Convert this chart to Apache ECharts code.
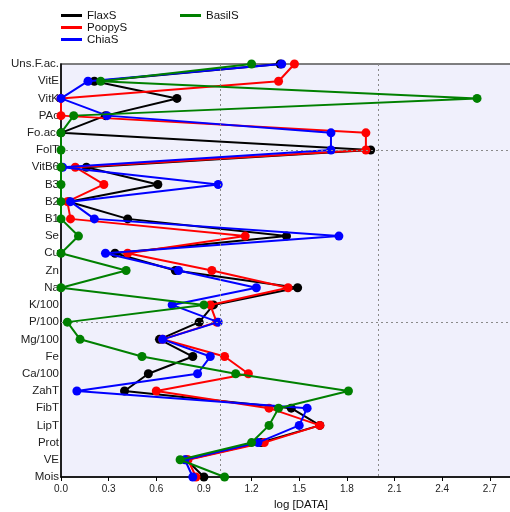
<!DOCTYPE html>
<html>
<head>
<meta charset="utf-8">
<script src="https://cdn.jsdelivr.net/npm/echarts@6/dist/echarts.min.js"></script>
<style>
  html, body { margin: 0; padding: 0; background: #fff; }
  #chart { width: 510px; height: 512px; }
</style>
</head>
<body>
<div id="chart"></div>
<script>
// Nutrient components, listed top to bottom
const categories = ['Uns.F.ac.', 'VitE', 'VitK', 'PAc', 'Fo.ac.', 'FolT', 'VitB6', 'B3', 'B2', 'B1',
  'Se', 'Cu', 'Zn', 'Na', 'K/100', 'P/100', 'Mg/100', 'Fe', 'Ca/100', 'ZahT', 'FibT', 'LipT',
  'Prot', 'VE', 'Mois'];

// log10 of the measured values per seed
const flaxS  = [1.38, 0.21, 0.73, 0.28, 0.00, 1.95, 0.16, 0.61, 0.05, 0.42, 1.42, 0.34, 0.72, 1.49, 0.96, 0.87, 0.62, 0.83, 0.55, 0.40, 1.45, 1.63, 1.26, 0.79, 0.90];
const poopyS = [1.47, 1.37, 0.00, 0.00, 1.92, 1.92, 0.09, 0.27, 0.04, 0.06, 1.16, 0.42, 0.95, 1.43, 0.94, 0.98, 0.64, 1.03, 1.18, 0.60, 1.31, 1.63, 1.28, 0.80, 0.85];
const chiaS  = [1.39, 0.17, 0.00, 0.29, 1.70, 1.70, 0.01, 0.99, 0.06, 0.21, 1.75, 0.28, 0.74, 1.23, 0.70, 0.99, 0.64, 0.94, 0.86, 0.10, 1.55, 1.50, 1.24, 0.78, 0.83];
const basilS = [1.20, 0.25, 2.62, 0.08, 0.00, 0.00, 0.00, 0.00, 0.00, 0.00, 0.11, 0.00, 0.41, 0.00, 0.90, 0.04, 0.12, 0.51, 1.10, 1.81, 1.37, 1.31, 1.20, 0.75, 1.03];

// Reference lines
const xGuides = [1, 2];
const yGuides = ['FolT', 'P/100'];

const seriesDefs = [
  { name: 'FlaxS',  data: flaxS,  color: '#000000' },
  { name: 'PoopyS', data: poopyS, color: '#ff0000' },
  { name: 'ChiaS',  data: chiaS,  color: '#0000ff' },
  { name: 'BasilS', data: basilS, color: '#008000' }
];

const font = 'Liberation Sans, Arial, sans-serif';

const chart = echarts.init(document.getElementById('chart'), null, { renderer: 'canvas' });

const series = [{
  name: 'guides',
  type: 'line',
  data: [],
  z: 1,
  silent: true,
  markLine: {
    silent: true,
    symbol: 'none',
    label: { show: false },
    lineStyle: { type: [2, 3], color: '#8a8a8a', width: 1 },
    data: xGuides.map(v => ({ xAxis: v })).concat(yGuides.map(c => ({ yAxis: c })))
  }
}].concat(seriesDefs.map((s, i) => ({
  name: s.name,
  type: 'line',
  data: s.data,
  z: 2 + i,
  symbol: 'circle',
  symbolSize: 9,
  color: s.color,
  lineStyle: { width: 2, color: s.color },
  itemStyle: { color: s.color }
})));

const legendText = { fontFamily: font, fontSize: 11.5, color: '#111', lineHeight: 11 };

chart.setOption({
  animation: false,
  backgroundColor: '#ffffff',
  legend: [{
    data: ['FlaxS', 'PoopyS', 'ChiaS'],
    orient: 'vertical',
    left: 61,
    top: 9.5,
    icon: 'rect',
    itemWidth: 21,
    itemHeight: 3,
    itemGap: 0,
    padding: 0,
    textStyle: legendText
  }, {
    data: ['BasilS'],
    orient: 'vertical',
    left: 180,
    top: 9.5,
    icon: 'rect',
    itemWidth: 21,
    itemHeight: 3,
    itemGap: 0,
    padding: 0,
    textStyle: legendText
  }],
  grid: {
    left: 61,
    right: -2,
    top: 64,
    bottom: 35,
    containLabel: false,
    outerBoundsMode: 'none',
    show: true,
    backgroundColor: '#f0f0fc',
    borderColor: '#555555',
    borderWidth: 1.5
  },
  xAxis: {
    type: 'value',
    min: 0,
    max: 2.84,
    interval: 0.3,
    name: 'log [DATA]',
    nameLocation: 'middle',
    nameGap: 20,
    nameTextStyle: { fontFamily: font, fontSize: 11.5, color: '#111', padding: [0, 0, 0, 29] },
    axisLine: { show: true, lineStyle: { color: '#000', width: 1.5 } },
    axisTick: { show: true, length: 4, lineStyle: { color: '#000' } },
    axisLabel: {
      fontFamily: font, fontSize: 10, color: '#222', margin: 7,
      showMaxLabel: false,
      formatter: v => v.toFixed(1)
    },
    splitLine: { show: false }
  },
  yAxis: {
    type: 'category',
    data: categories,
    inverse: true,
    boundaryGap: false,
    axisLine: { show: true, lineStyle: { color: '#000', width: 1.5 } },
    axisTick: { show: false },
    axisLabel: { fontFamily: font, fontSize: 11.5, color: '#222', margin: 2, interval: 0 },
    splitLine: { show: false }
  },
  series: series
});
</script>
</body>
</html>
